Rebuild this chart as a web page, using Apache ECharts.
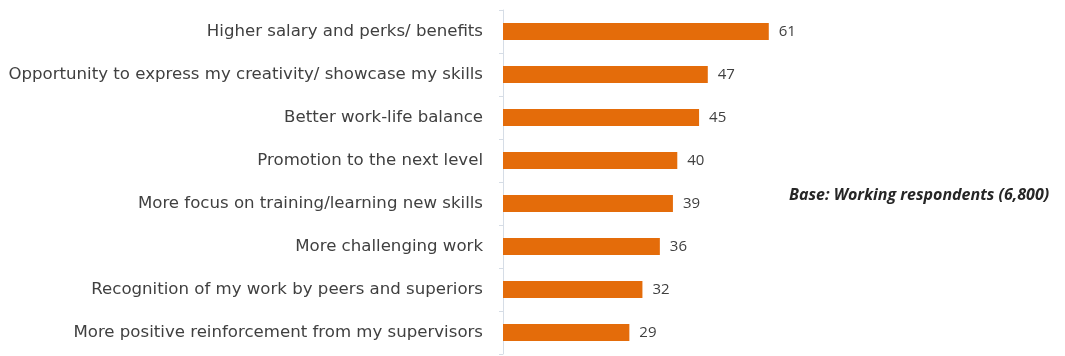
<!DOCTYPE html>
<html><head><meta charset="utf-8">
<script src="https://cdn.jsdelivr.net/npm/echarts@6/dist/echarts.min.js"></script>
<style>html,body{margin:0;padding:0;background:#fff}#c{width:1065px;height:356px}</style>
</head><body><div id="c"></div>
<script>
const categories = [
  "Higher salary and perks/ benefits",
  "Opportunity to express my creativity/ showcase my skills",
  "Better work-life balance",
  "Promotion to the next level",
  "More focus on training/learning new skills",
  "More challenging work",
  "Recognition of my work by peers and superiors",
  "More positive reinforcement from my supervisors"
];
const values = [61, 47, 45, 40, 39, 36, 32, 29];
const noteText = "Base: Working respondents (6,800)";

const chart = echarts.init(document.getElementById('c'), null, {renderer: 'canvas'});
chart.setOption({
  animation: false,
  grid: {left: 503, right: 257, top: 10, bottom: 2, containLabel: false},
  xAxis: {type: 'value', min: 0, max: 70, show: false},
  yAxis: {
    type: 'category', data: categories, inverse: true,
    axisLine: {show: true, lineStyle: {color: '#d6dde6', width: 1}},
    axisTick: {show: true, length: 4, lineStyle: {color: '#d6dde6'}},
    axisLabel: {color: '#404040', fontFamily: 'DejaVu Sans', fontSize: 16.6, margin: 20}
  },
  series: [{
    type: 'bar', data: values, barWidth: 17,
    itemStyle: {color: '#E46C0A'},
    label: {show: true, position: 'right', distance: 10, color: '#404040', fontFamily: 'Open Sans', fontSize: 15}
  }],
  graphic: [{
    type: 'text', left: 789, top: 187,
    style: {text: noteText, fill: '#262626', font: 'italic bold 16px "Open Sans"'}
  }]
});
</script></body></html>
